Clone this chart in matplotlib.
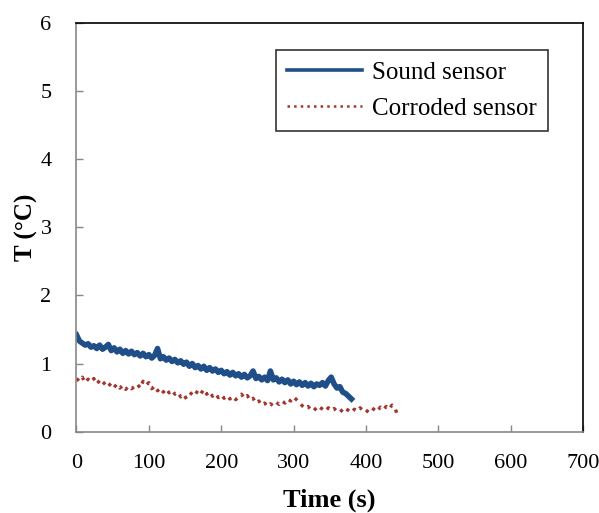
import numpy as np
import matplotlib
matplotlib.use('Agg')
import matplotlib.pyplot as plt

plt.rcParams['font.family'] = ['Liberation Serif', 'DejaVu Serif']

# Temperature readings, one every 4 s
sound_T = [1.42, 1.33, 1.30, 1.27, 1.29, 1.24, 1.26, 1.22, 1.27, 1.21,
           1.24, 1.28, 1.19, 1.23, 1.17, 1.21, 1.15, 1.19, 1.14, 1.18,
           1.13, 1.16, 1.11, 1.15, 1.10, 1.13, 1.08, 1.12, 1.22, 1.07,
           1.10, 1.05, 1.08, 1.03, 1.06, 1.01, 1.04, 0.99, 1.02, 0.96,
           1.00, 0.94, 0.97, 0.92, 0.96, 0.90, 0.94, 0.89, 0.92, 0.87,
           0.90, 0.85, 0.88, 0.83, 0.87, 0.82, 0.85, 0.80, 0.84, 0.79,
           0.82, 0.89, 0.78, 0.81, 0.76, 0.80, 0.75, 0.89, 0.76, 0.79,
           0.73, 0.77, 0.72, 0.76, 0.70, 0.74, 0.69, 0.73, 0.68, 0.72,
           0.67, 0.71, 0.66, 0.70, 0.68, 0.72, 0.67, 0.75, 0.80, 0.70,
           0.64, 0.66, 0.58, 0.56, 0.52, 0.48]
corroded_T = [0.78, 0.74, 0.80, 0.72, 0.77, 0.73, 0.78, 0.70, 0.75, 0.69,
              0.73, 0.67, 0.71, 0.65, 0.70, 0.64, 0.68, 0.62, 0.67, 0.63,
              0.66, 0.70, 0.64, 0.74, 0.68, 0.72, 0.63, 0.67, 0.60, 0.64,
              0.58, 0.63, 0.57, 0.61, 0.55, 0.58, 0.51, 0.55, 0.48, 0.53,
              0.58, 0.54, 0.61, 0.56, 0.62, 0.55, 0.59, 0.52, 0.56, 0.50,
              0.54, 0.49, 0.53, 0.48, 0.52, 0.47, 0.51, 0.55, 0.49, 0.53,
              0.46, 0.49, 0.42, 0.45, 0.39, 0.42, 0.37, 0.41, 0.38, 0.43,
              0.40, 0.45, 0.42, 0.48, 0.45, 0.51, 0.47, 0.43, 0.38, 0.34,
              0.37, 0.32, 0.35, 0.31, 0.36, 0.33, 0.30, 0.35, 0.31, 0.34,
              0.30, 0.33, 0.29, 0.34, 0.31, 0.28, 0.33, 0.30, 0.35, 0.31,
              0.28, 0.33, 0.30, 0.35, 0.31, 0.36, 0.32, 0.37, 0.33, 0.39,
              0.36, 0.22]
sound_t = np.arange(len(sound_T)) * 4
corroded_t = np.arange(len(corroded_T)) * 4

fig = plt.figure(figsize=(5.99, 5.13), dpi=100)
ax = fig.add_axes([0.1277, 0.1585, 0.8456, 0.7973])

ax.plot(sound_t, sound_T, color='#1F4E88', lw=4, solid_joinstyle='round', label='Sound sensor')
ax.plot(corroded_t, corroded_T, color='#A3352F', lw=2.4, ls=':', label='Corroded sensor')

ax.set_xlim(0, 700)
ax.set_ylim(0, 6)
ax.set_xticks(range(0, 701, 100))
ax.set_yticks(range(0, 7))
ax.tick_params(direction='in', length=5, width=1, color='#888888', labelsize=16)
ax.tick_params(axis='x', pad=16)
ax.tick_params(axis='y', pad=18)
for s in ['left', 'bottom']:
    ax.spines[s].set_color('#888888')
for s in ['top', 'right']:
    ax.spines[s].set_color('black')
for s in ax.spines.values():
    s.set_linewidth(1.2)

ax.set_xlabel('Time (s)', fontsize=19, fontweight='bold', labelpad=11)
ax.set_ylabel('T (\u00b0C)', fontsize=18, fontweight='bold', labelpad=2)

# legend drawn with the regular line widths
leg = ax.legend(loc='upper right', bbox_to_anchor=(0.931, 0.933), borderaxespad=0,
                fontsize=18, frameon=True, fancybox=False, edgecolor='black',
                handlelength=3.0, borderpad=0.45, labelspacing=0.55, handletextpad=0.4)
leg.get_frame().set_linewidth(1.2)
leg.get_lines()[0].set_linewidth(2.6)
leg.get_lines()[1].set_linewidth(1.8)

fig.savefig('out.png', dpi=100)
